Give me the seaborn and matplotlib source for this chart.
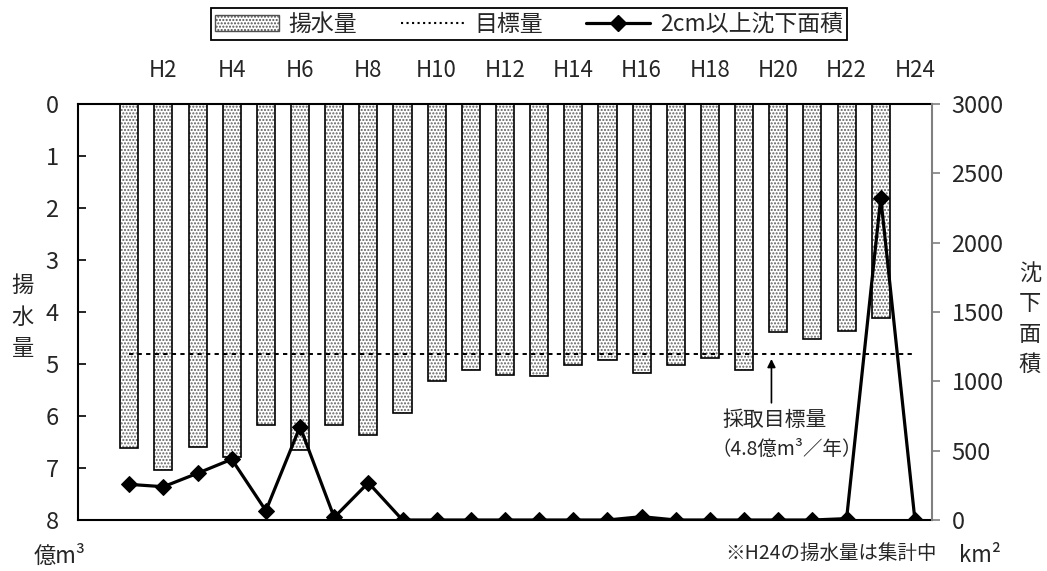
import matplotlib
matplotlib.use('Agg')
import matplotlib.pyplot as plt
from matplotlib.patches import Patch
from matplotlib.lines import Line2D
import seaborn as sns

# 年度 (H1〜H24)
nendo = list(range(1, 25))
tick_pos = [2, 4, 6, 8, 10, 12, 14, 16, 18, 20, 22, 24]
tick_labels = ['H2', 'H4', 'H6', 'H8', 'H10', 'H12', 'H14', 'H16', 'H18', 'H20', 'H22', 'H24']

# 揚水量 (億m3) H1〜H23 (H24は集計中)
yosuiryo = [6.62, 7.04, 6.59, 6.78, 6.17, 6.65, 6.17, 6.37, 5.94, 5.33, 5.12, 5.21,
            5.24, 5.02, 4.92, 5.18, 5.02, 4.89, 5.12, 4.39, 4.51, 4.36, 4.12]
# 採取目標量 (億m3/年)
mokuhyo = 4.8
# 2cm以上沈下面積 (km2)
chinka = [257, 240, 337, 438, 67, 673, 19, 269, 0, 0, 0, 0,
          0, 0, 0, 24, 0, 0, 0, 0, 0, 10, 2324, 0]

sns.set_style('white')
plt.rcParams['font.family'] = ['Noto Sans CJK JP', 'DejaVu Sans']
plt.rcParams['hatch.linewidth'] = 1.0

fig = plt.figure(figsize=(10.47, 5.71), dpi=100)
ax = fig.add_axes([78 / 1047, 1 - 520 / 571, 854 / 1047, 416 / 571])

# 揚水量 (棒) - 点描
x_bar = nendo[:len(yosuiryo)]
sns.barplot(x=x_bar, y=yosuiryo, native_scale=True, orient='x', width=0.53,
            color='white', edgecolor='#606060', linewidth=0, hatch='.....',
            errorbar=None, ax=ax)
sns.barplot(x=x_bar, y=yosuiryo, native_scale=True, orient='x', width=0.53,
            fill=False, color='black', linewidth=1.2, errorbar=None, ax=ax)

# 目標量
ax.hlines(mokuhyo, nendo[0], nendo[-1], colors='black', linestyles=(0, (2.2, 2.2)), linewidth=1.4)

ax.set_xlim(-0.5, 24.5)
ax.set_ylim(8, 0)
ax.set_xlabel('')
ax.set_ylabel('')
ax.xaxis.tick_top()
ax.set_xticks(tick_pos)
ax.set_xticklabels(tick_labels)
ax.tick_params(axis='x', length=0, pad=16, labelsize=16)
ax.tick_params(axis='y', direction='in', length=6, width=1.2, color='black', pad=14, labelsize=17)
ax.set_yticks(range(0, 9))
for s in ['left', 'top', 'bottom']:
    ax.spines[s].set_color('black')
    ax.spines[s].set_linewidth(1.5)
ax.spines['right'].set_visible(False)

# 沈下面積 (折れ線)
ax2 = ax.twinx()
sns.lineplot(x=nendo, y=chinka, ax=ax2, color='black', linewidth=2.3,
             marker='D', markersize=8.5, markeredgecolor='black')
ax2.set_ylim(0, 3000)
ax2.set_yticks(range(0, 3001, 500))
ax2.set_ylabel('')
ax2.set_xlim(-0.5, 24.5)
ax2.tick_params(axis='y', direction='out', length=6, width=1.2, color='#808080', pad=8, labelsize=17)
for s in ['left', 'top', 'bottom']:
    ax2.spines[s].set_visible(False)
ax2.spines['right'].set_color('#808080')
ax2.spines['right'].set_linewidth(1.5)

# 注記
ax.annotate('', xy=(19.8, mokuhyo + 0.05), xytext=(19.8, 5.8),
            arrowprops=dict(arrowstyle='-|>', color='black', lw=1.2, mutation_scale=12))
fig.text(775 / 1047, 1 - 420 / 571, '採取目標量', ha='center', va='center', fontsize=15)
fig.text(787 / 1047, 1 - 449 / 571, '（4.8億m³／年）', ha='center', va='center', fontsize=14)

fig.text(23 / 1047, 1 - 317 / 571, '揚\n水\n量', ha='center', va='center', fontsize=16, linespacing=1.45)
fig.text(1030 / 1047, 1 - 319 / 571, '沈\n下\n面\n積', ha='center', va='center', fontsize=16, linespacing=1.4)
fig.text(60 / 1047, 1 - 556 / 571, '億m³', ha='center', va='center', fontsize=16)
fig.text(831 / 1047, 1 - 553 / 571, '※H24の揚水量は集計中', ha='center', va='center', fontsize=14)
fig.text(980 / 1047, 1 - 556 / 571, 'km²', ha='center', va='center', fontsize=16)

# 凡例
handles = [
    Patch(facecolor='white', edgecolor='#505050', hatch='.....', linewidth=1.0),
    Line2D([], [], color='black', linestyle=':', linewidth=1.5),
    Line2D([], [], color='black', linewidth=2.3, marker='D', markersize=8),
]
leg = fig.legend(handles, ['揚水量', '目標量', '2cm以上沈下面積'], loc='upper center',
                 bbox_to_anchor=(529 / 1047, 0.998), ncol=3, frameon=True, fancybox=False,
                 edgecolor='black', framealpha=1, fontsize=16.5, handlelength=2.8,
                 columnspacing=1.9, borderpad=0.2, handletextpad=0.4, borderaxespad=0.3)
leg.get_frame().set_linewidth(1.3)

fig.savefig('out.png', dpi=100)
